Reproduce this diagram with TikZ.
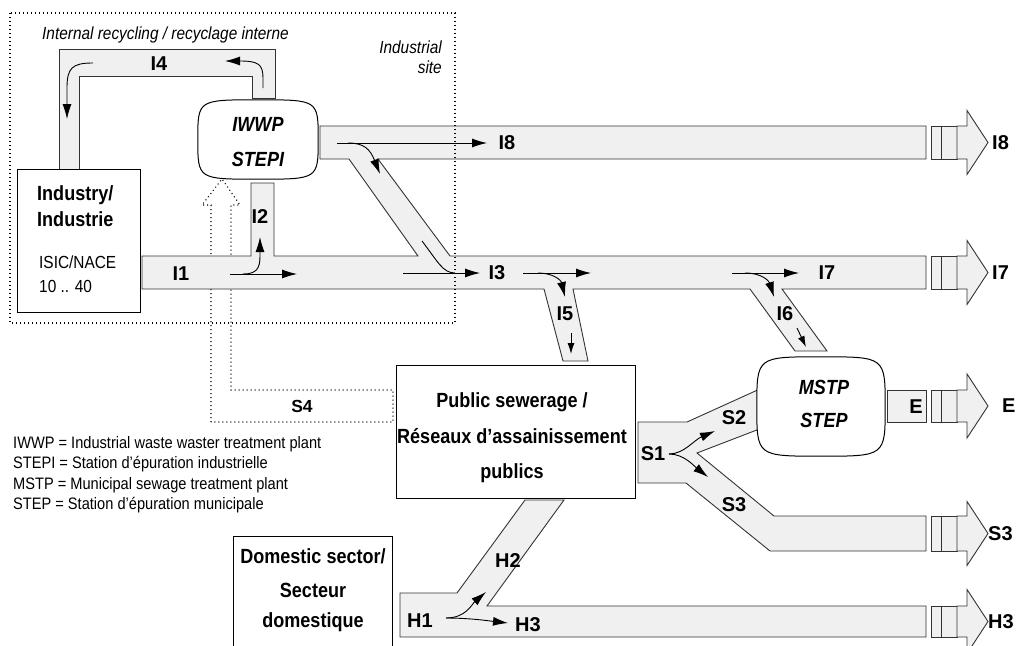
\documentclass[tikz,border=0pt]{standalone}
\usepackage{fontspec}
\setmainfont{Liberation Sans}[FakeStretch=0.88]
\newfontfamily\lblfam{Liberation Sans}
\usetikzlibrary{arrows.meta,calc}
\definecolor{pipefill}{HTML}{F0F0F0}
\definecolor{pipeline}{HTML}{333333}
\tikzset{
  pipe/.style={fill=pipefill,draw=pipeline,line width=0.9pt,line join=miter},
  boxnode/.style={draw=black,line width=1pt,fill=white,inner sep=0pt,anchor=north west},
  plantref/.style={draw=none,inner sep=0pt},
  plantline/.style={draw=black,line width=1pt,fill=white},
  dotline/.style={draw=black,line width=1.1pt,dash pattern=on 1pt off 3pt},
  flow/.style={line width=0.9pt,-{Latex[length=15pt,width=9pt]}},
  smallflow/.style={line width=0.9pt,-{Latex[length=11pt,width=7pt]}},
  plainline/.style={line width=0.9pt},
  lbl/.style={font=\lblfam\fontsize{20}{24}\selectfont\bfseries,inner sep=0pt},
  lblsmall/.style={font=\lblfam\fontsize{17.5}{21}\selectfont\bfseries,inner sep=0pt},
  headtxt/.style={font=\fontsize{20.5}{24}\selectfont\bfseries,inner sep=0pt,anchor=base},
  planttxt/.style={font=\fontsize{20.5}{24}\selectfont\bfseries\itshape,inner sep=0pt,anchor=base},
  plaintxt/.style={font=\fontsize{17.5}{21}\selectfont,inner sep=0pt,anchor=base west},
  italtxt/.style={font=\fontsize{17.5}{21}\selectfont\itshape,inner sep=0pt},
  legendtxt/.style={font=\fontsize{16.6}{20}\selectfont,inner sep=0pt,anchor=base west},
}
\newcommand\outarrow[5]{% #1 y-centre, #2 half height, #3 node name, #4 label x, #5 text
  \draw[pipe] (931,#1-#2) rectangle (941,#1+#2);
  \draw[pipe] (941,#1-#2) rectangle (957,#1+#2);
  \draw[pipe] (957,#1-#2) -- (967,#1-#2) -- (967,#1-32) -- (988,#1) -- (967,#1+32) -- (967,#1+#2) -- (957,#1+#2) -- cycle;
  \node[lbl,anchor=west] (#3) at (#4,#1) {#5};
}
\newcommand\plantshape[1]{%
  \draw[plantline] (#1.west) .. controls (#1.north west) .. (#1.north)
    .. controls (#1.north east) .. (#1.east)
    .. controls (#1.south east) .. (#1.south)
    .. controls (#1.south west) .. (#1.west) -- cycle;
}
\begin{document}
\begin{tikzpicture}[x=1pt,y=-1pt]
\useasboundingbox (0,0) rectangle (1019,645);

% dotted S4 return path
\draw[dotline] (211,422) -- (211,205) -- (202,205) -- (222,179) -- (240,205) -- (231,205) -- (231,390) -- (393,390) -- (393,422) -- cycle;
\node[lblsmall] (s4) at (302,406) {S4};

% pipes
\draw[pipe] (59,169) -- (59,49) -- (275,49) -- (275,98) -- (252,98) -- (252,76) -- (79,76) -- (79,169) -- cycle;
\draw[pipe] (142,256) -- (251,256) -- (251,183) -- (274,183) -- (274,256) -- (418,256)
  -- (349,159) -- (320,159) -- (320,126) -- (926,126) -- (926,159) -- (378,159) -- (450,256)
  -- (926,256) -- (926,289) -- (782,289) -- (827,351) -- (795,351) -- (750,289)
  -- (573,289) -- (588,361) -- (563,361) -- (544,289) -- (142,289) -- cycle;
\draw[pipe] (638,422) -- (687,422) -- (762,388) -- (762,428) -- (697,453) -- (774,516) -- (926,516)
  -- (926,551) -- (770,551) -- (686,483) -- (638,483) -- cycle;
\draw[pipe] (887,390) rectangle (926,422);
\draw[pipe] (400,593) -- (457,593) -- (525,500) -- (564,500) -- (487,606) -- (926,606)
  -- (926,637) -- (400,637) -- cycle;

% output arrows
\outarrow{142.5}{16.5}{oI8}{992}{I8}
\outarrow{272.5}{16.5}{oI7}{992}{I7}
\outarrow{406}{16}{oE}{1002}{E}
\outarrow{533.5}{17.5}{oS3}{988}{S3}
\outarrow{621.5}{15.5}{oH3}{988}{H3}

% boxes
\node[boxnode,minimum width=123pt,minimum height=143pt] (ind) at (17,169) {};
\node[boxnode,minimum width=239pt,minimum height=133pt] (psw) at (396,365) {};
\node[boxnode,minimum width=159pt,minimum height=120pt] (dom) at (233,536) {};

% treatment plants
\node[plantref,minimum width=120pt,minimum height=79pt] (iwwp) at (258,139.5) {};
\plantshape{iwwp}
\node[plantref,minimum width=128pt,minimum height=99pt] (mstp) at (821,406.5) {};
\plantshape{mstp}

% industrial site
\draw[dotline] (10,13) rectangle (455,323);

% texts
\node[italtxt,anchor=base west] (irec) at (42,39) {Internal recycling / recyclage interne};
\node[italtxt,anchor=base east] (site1) at (442,53) {Industrial};
\node[italtxt,anchor=base east] (site2) at (442,73) {site};

\node[headtxt,anchor=base west] (ind1) at (37,200) {Industry/};
\node[headtxt,anchor=base west] (ind2) at (37,226) {Industrie};
\node[plaintxt] (ind3) at (39,268) {ISIC/NACE};
\node[plaintxt] (ind4) at (39,292) {10 .. 40};

\node[planttxt] (iw1) at (258,131) {IWWP};
\node[planttxt] (iw2) at (258,166) {STEPI};
\node[planttxt] (ms1) at (824,394) {MSTP};
\node[planttxt] (ms2) at (824,427) {STEP};

\node[headtxt] (ps1) at (512,407) {Public sewerage /};
\node[headtxt] (ps2) at (512,443) {Réseaux d’assainissement};
\node[headtxt] (ps3) at (512,478) {publics};

\node[headtxt] (dm1) at (313,563) {Domestic sector/};
\node[headtxt] (dm2) at (313,597) {Secteur};
\node[headtxt] (dm3) at (313,627) {domestique};

\node[legendtxt] (lg1) at (13,448) {IWWP = Industrial waste waster treatment plant};
\node[legendtxt] (lg2) at (13,468.5) {STEPI = Station d’épuration industrielle};
\node[legendtxt] (lg3) at (13,489) {MSTP = Municipal sewage treatment plant};
\node[legendtxt] (lg4) at (13,509.5) {STEP = Station d’épuration municipale};

% pipe labels
\node[lbl] (lI4) at (159,64) {I4};
\node[lbl] (lI2) at (260,217) {I2};
\node[lbl] (lI1) at (181,274) {I1};
\node[lbl] (lI8) at (507,143) {I8};
\node[lbl] (lI3) at (497,273) {I3};
\node[lbl] (lI5) at (565,314) {I5};
\node[lbl] (lI7) at (827,273) {I7};
\node[lbl] (lI6) at (785,314) {I6};
\node[lbl] (lS1) at (653,454) {S1};
\node[lbl] (lS2) at (734,418) {S2};
\node[lbl] (lS3) at (734,505) {S3};
\node[lbl] (lE) at (916,407) {E};
\node[lbl] (lH1) at (420,621) {H1};
\node[lbl] (lH2) at (508,561) {H2};
\node[lbl] (lH3) at (528,625) {H3};

% flow arrows
\coordinate (i4a) at (263,88);   \coordinate (i4b) at (225,61);
\draw[flow] (i4a) -- (263,78) .. controls (263,64) and (258,61) .. (i4b);
\coordinate (i4c) at (93,63);    \coordinate (i4d) at (67,119);
\draw[flow] (i4c) .. controls (72,63) and (67,68) .. (67,88) -- (i4d);

\coordinate (i1a) at (230,274);  \coordinate (i1b) at (297,274);
\draw[flow] (i1a) -- (i1b);
\coordinate (i1c) at (243,274);  \coordinate (i2t) at (260,237);
\draw[flow] (i1c) .. controls (257,274) and (260,268) .. (260,256) -- (i2t);

\coordinate (i8a) at (337,143);  \coordinate (i8b) at (487,143);
\draw[flow] (i8a) -- (i8b);
\coordinate (i8c) at (348,143);  \coordinate (dgt) at (380,174);
\draw[flow] (i8c) .. controls (364,143) and (370,149) .. (dgt);

\coordinate (dga) at (422,241);  \coordinate (dgb) at (455,273);
\draw[plainline] (dga) .. controls (438,262) and (443,273) .. (dgb);
\coordinate (i3a) at (403,273);  \coordinate (i3b) at (480,273);
\draw[flow] (i3a) -- (i3b);

\coordinate (i3c) at (523,273);  \coordinate (i3d) at (591,273);
\draw[flow] (i3c) -- (i3d);
\coordinate (i3e) at (538,273);  \coordinate (i5t) at (565,297);
\draw[flow] (i3e) .. controls (553,273) and (561,280) .. (i5t);
\coordinate (i5a) at (571,333);  \coordinate (i5b) at (571,354);
\draw[smallflow] (i5a) -- (i5b);

\coordinate (i7a) at (732,273);  \coordinate (i7b) at (799,273);
\draw[flow] (i7a) -- (i7b);
\coordinate (i7c) at (745,273);  \coordinate (i6t) at (774,297);
\draw[flow] (i7c) .. controls (762,273) and (769,281) .. (i6t);
\coordinate (i6a) at (797,328);  \coordinate (i6b) at (806,347);
\draw[smallflow] (i6a) -- (i6b);

\coordinate (s1a) at (669,454);  \coordinate (s2t) at (715,431);  \coordinate (s3t) at (708,477);
\draw[flow] (s1a) .. controls (684,454) and (694,440) .. (s2t);
\draw[flow] (s1a) .. controls (684,454) and (694,466) .. (s3t);

\coordinate (h1a) at (446,618);  \coordinate (h2t) at (486,592);  \coordinate (h3t) at (508,623);
\draw[flow] (h1a) .. controls (466,618) and (472,604) .. (h2t);
\draw[flow] (h1a) .. controls (470,618) and (490,621) .. (h3t);
\end{tikzpicture}
\end{document}
